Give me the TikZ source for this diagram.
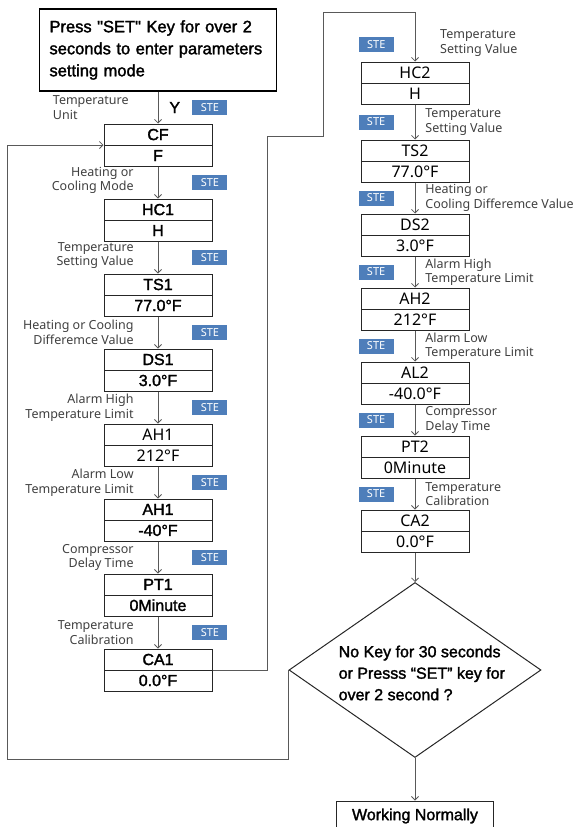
\documentclass[tikz,border=0pt]{standalone}
\usepackage{fontspec}
\setmainfont{Liberation Sans}
\newfontfamily\notefont{Noto Sans}
\newfontfamily\medfont[FakeBold=1.8]{Liberation Sans}
\usetikzlibrary{shapes.geometric,arrows.meta}
\definecolor{steblue}{HTML}{4E7EBA}
\definecolor{wiregray}{HTML}{595959}
\definecolor{textgray}{HTML}{404040}
\tikzstyle{param}=[
    draw = black!85,
    line width = 1pt,
    minimum width = 108pt,
    minimum height = 42pt,
    inner sep = 0pt,
    align = center,
    font = \medfont\fontsize{16}{21}\selectfont,
    path picture = {\draw[black!85, line width=1pt] (path picture bounding box.west) -- (path picture bounding box.east);}
]
\tikzstyle{param light}=[param, font = \notefont\fontsize{16}{21}\selectfont]

\begin{document}
\begin{tikzpicture}[x=1pt, y=-1pt, node distance={75pt},
    wire/.style = {draw=wiregray, line width=0.8pt, -{Straight Barb[length=3.5pt, width=7pt]}},
    lbl/.style = {font=\notefont\fontsize{12.5}{14.5}\selectfont, text=textgray, inner sep=0pt, align=right},
    ste/.style = {fill=steblue, text=white, font=\notefont\fontsize{11}{11}\selectfont, minimum width=35pt, minimum height=15pt, inner sep=0pt},
    decision/.style = {draw=black!85, line width=1pt, diamond, minimum width=252pt, minimum height=175pt, inner sep=0pt}]
    \useasboundingbox (0,0) rectangle (583,827);

    \node[draw, line width=1.3pt, text width=217pt, inner xsep=10pt, minimum height=82pt, align=left, font=\medfont\fontsize{16.5}{22}\selectfont] (start) at (158,50) {Press "SET" Key for over 2\\seconds to enter parameters\\setting mode};

    % left column
    \node[param] (cf) at (158,145) {CF\\F};
    \node[param] (hc1) [below of = cf] {HC1\\H};
    \node[param] (ts1) [below of = hc1] {TS1\\77.0°F};
    \node[param] (ds1) [below of = ts1] {DS1\\3.0°F};
    \node[param light] (ah1) [below of = ds1] {AH1\\212°F};
    \node[param] (al1) [below of = ah1] {AH1\\-40°F};
    \node[param] (pt1) [below of = al1] {PT1\\0Minute};
    \node[param] (ca1) [below of = pt1] {CA1\\0.0°F};

    % right column
    \begin{scope}[node distance={74pt}]
        \node[param light] (hc2) at (415,83) {HC2\\H};
        \node[param light] (ts2) at (415,161) {TS2\\77.0°F};
        \node[param light] (ds2) [below of = ts2] {DS2\\3.0°F};
        \node[param light] (ah2) [below of = ds2] {AH2\\212°F};
        \node[param light] (al2) [below of = ah2] {AL2\\-40.0°F};
        \node[param light] (pt2) [below of = al2] {PT2\\0Minute};
        \node[param light] (ca2) [below of = pt2] {CA2\\0.0°F};
    \end{scope}

    \node[decision] (dec) at (415,670) {};
    \node[font=\medfont\fontsize{16}{21.5}\selectfont, align=left, inner sep=0pt, right=50pt, yshift=-3pt] (dect) at (dec.west) {No Key for 30 seconds\\or Presss “SET” key for\\over 2 second ?};
    \node[draw=black!85, line width=1pt, minimum width=157pt, minimum height=30pt, font=\medfont\fontsize{16}{16}\selectfont] (work) at (415,816) {Working Normally};

    % left flow
    \draw[wire] (start) -- (cf)
        node[midway, right=11pt, font=\medfont\fontsize{16}{16}\selectfont, inner sep=0pt] (y) {Y}
        node[ste, midway, right=34pt] (s0) {STE}
        node[lbl, align=left, midway, left=29pt] (t0) {Temperature\\Unit};
    \draw[wire] (cf) -- (hc1)
        node[ste, midway, right=34pt] (s1) {STE}
        node[lbl, midway, left=24pt, yshift=2pt] (t1) {Heating or\\Cooling Mode};
    \draw[wire] (hc1) -- (ts1)
        node[ste, midway, right=34pt] (s2) {STE}
        node[lbl, midway, left=24pt, yshift=2pt] (t2) {Temperature\\Setting Value};
    \draw[wire] (ts1) -- (ds1)
        node[ste, midway, right=34pt] (s3) {STE}
        node[lbl, midway, left=24pt] (t3) {Heating or Cooling\\Differemce Value};
    \draw[wire] (ds1) -- (ah1)
        node[ste, midway, right=34pt] (s4) {STE}
        node[lbl, midway, left=24pt] (t4) {Alarm High\\Temperature Limit};
    \draw[wire] (ah1) -- (al1)
        node[ste, midway, right=34pt] (s5) {STE}
        node[lbl, midway, left=24pt] (t5) {Alarm Low\\Temperature Limit};
    \draw[wire] (al1) -- (pt1)
        node[ste, midway, right=34pt] (s6) {STE}
        node[lbl, midway, left=24pt] (t6) {Compressor\\Delay Time};
    \draw[wire] (pt1) -- (ca1)
        node[ste, midway, right=34pt] (s7) {STE}
        node[lbl, midway, left=24pt] (t7) {Temperature\\Calibration};

    % jump to right column
    \coordinate (up1) at (267,136);
    \coordinate (up2) at (323,12);
    \draw[wire] (ca1.east) -| (up1) -| (up2) -| (hc2.north);
    \node[ste, left=21pt, yshift=17pt] (s8) at (hc2.north) {STE};
    \node[lbl, align=left, above right, xshift=25pt, yshift=5pt] (t8) at (hc2.north) {Temperature\\Setting Value};

    % right flow
    \draw[wire] (hc2) -- (ts2)
        node[ste, midway, left=21pt] (s9) {STE}
        node[lbl, align=left, midway, right=10pt] (t9) {Temperature\\Setting Value};
    \draw[wire] (ts2) -- (ds2)
        node[ste, midway, left=21pt] (s10) {STE}
        node[lbl, align=left, midway, right=10pt] (t10) {Heating or\\Cooling Differemce Value};
    \draw[wire] (ds2) -- (ah2)
        node[ste, midway, left=21pt] (s11) {STE}
        node[lbl, align=left, midway, right=10pt] (t11) {Alarm High\\Temperature Limit};
    \draw[wire] (ah2) -- (al2)
        node[ste, midway, left=21pt] (s12) {STE}
        node[lbl, align=left, midway, right=10pt] (t12) {Alarm Low\\Temperature Limit};
    \draw[wire] (al2) -- (pt2)
        node[ste, midway, left=21pt] (s13) {STE}
        node[lbl, align=left, midway, right=10pt] (t13) {Compressor\\Delay Time};
    \draw[wire] (pt2) -- (ca2)
        node[ste, midway, left=21pt] (s14) {STE}
        node[lbl, align=left, midway, right=10pt] (t14) {Temperature\\Calibration};

    % decision
    \draw[wire] (ca2) -- (dec);
    \draw[wire] (dec) -- (work);
    \coordinate (back) at (7,759);
    \draw[wire] (dec.west) |- (back) |- (cf.west);
\end{tikzpicture}
\end{document}
